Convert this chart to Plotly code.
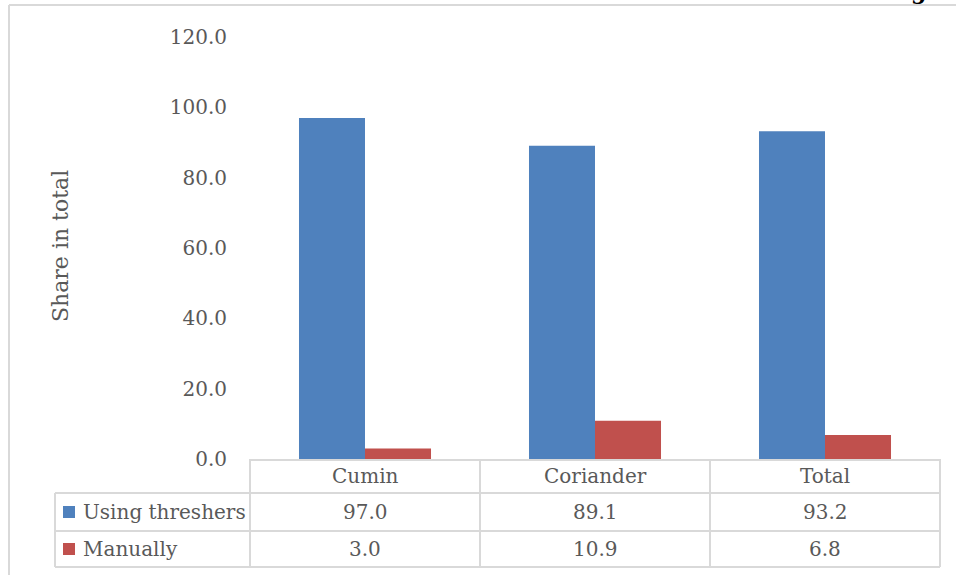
import plotly.graph_objects as go

# Share of farmers by threshing method
categories = ["Cumin", "Coriander", "Total"]
series_names = ["Using threshers", "Manually"]
using_threshers = [97.0, 89.1, 93.2]
manually = [3.0, 10.9, 6.8]
series_values = [using_threshers, manually]
series_colors = ["#4F81BD", "#C0504D"]
y_ticks = [0, 20, 40, 60, 80, 100, 120]

W, H = 956, 575
M_L, M_R, M_T, M_B = 250, 16, 37, 116
PLOT_H = H - M_T - M_B
PLOT_W = W - M_L - M_R

TEXT = "#595959"
GRID = "#D9D9D9"
FONT = "DejaVu Serif"


def py(pixel_y):
    """Page pixel row -> paper y coordinate."""
    return (H - M_B - pixel_y) / PLOT_H


def px(pixel_x):
    """Page pixel column -> paper x coordinate."""
    return (pixel_x - M_L) / PLOT_W


fig = go.Figure()
for name, vals, col in zip(series_names, series_values, series_colors):
    fig.add_trace(go.Bar(name=name, x=categories, y=vals, marker=dict(color=col, line=dict(width=0))))

# data table rows below the plot
row_top, row1, row2, row_bot = 459, 493, 531, 567
line = dict(color=GRID, width=2)
shapes = []
for yy in (row1, row2, row_bot):
    shapes.append(dict(type="line", xref="paper", yref="paper", x0=px(55), x1=1, y0=py(yy), y1=py(yy), line=line))
shapes.append(dict(type="line", xref="paper", yref="paper", x0=px(55), x1=px(55), y0=py(row1), y1=py(row_bot), line=line))
shapes.append(dict(type="line", xref="paper", yref="paper", x0=0, x1=0, y0=py(row_top), y1=py(row_bot), line=line))
shapes.append(dict(type="line", xref="paper", yref="paper", x0=1, x1=1, y0=py(row_top), y1=py(row_bot), line=line))
for i in range(len(categories) - 1):
    shapes.append(dict(type="line", xref="x", yref="paper", x0=i + 0.5, x1=i + 0.5, y0=py(row_top), y1=py(row_bot), line=line))

# outer chart frame (left and top edges)
shapes.append(dict(type="line", xref="paper", yref="paper", x0=px(9), x1=px(W + 5), y0=py(5), y1=py(5), line=line))
shapes.append(dict(type="line", xref="paper", yref="paper", x0=px(9), x1=px(9), y0=py(5), y1=py(H + 5), line=line))

annotations = []
font = dict(family=FONT, size=20, color=TEXT)
# header row with categories
for c in categories:
    annotations.append(dict(x=c, xref="x", y=py((row_top + row1) / 2), yref="paper", text=c, showarrow=False,
                            font=font, xanchor="center", yanchor="middle"))
# value rows with legend keys
for r, (name, vals, col) in enumerate(zip(series_names, series_values, series_colors)):
    top, bot = (row1, row2) if r == 0 else (row2, row_bot)
    yc = py((top + bot) / 2)
    shapes.append(dict(type="rect", xref="paper", yref="paper", xsizemode="pixel", ysizemode="pixel",
                       xanchor=px(63), yanchor=yc, x0=0, x1=12, y0=-6, y1=6,
                       fillcolor=col, line=dict(width=0)))
    annotations.append(dict(x=px(81), xref="paper", y=yc, yref="paper", text=name, showarrow=False,
                            font=font, xanchor="left", yanchor="middle"))
    for c, v in zip(categories, vals):
        annotations.append(dict(x=c, xref="x", y=yc, yref="paper", text=f"{v:.1f}", showarrow=False,
                                font=font, xanchor="center", yanchor="middle"))

# y axis title
annotations.append(dict(x=px(61), xref="paper", y=py(246), yref="paper", text="Share in total", textangle=-90,
                        showarrow=False, font=dict(family=FONT, size=22, color=TEXT),
                        xanchor="center", yanchor="middle"))
# bold heading running above the frame
annotations.append(dict(x=px(918), xref="paper", y=1, yref="paper", yshift=31, text="<b>g</b>", showarrow=False,
                        font=dict(family=FONT, size=22, color="#000000"), xanchor="center", yanchor="bottom"))

fig.update_layout(
    width=W, height=H,
    margin=dict(l=M_L, r=M_R, t=M_T, b=M_B, pad=0),
    paper_bgcolor="white", plot_bgcolor="white",
    barmode="group", bargap=0.426, bargroupgap=0,
    showlegend=False,
    shapes=shapes, annotations=annotations,
    font=dict(family=FONT, color=TEXT, size=20),
)
fig.update_xaxes(showticklabels=False, showgrid=False, zeroline=False, showline=True, linecolor=GRID, linewidth=2,
                 ticks="")
fig.update_yaxes(range=[0, 120], tickvals=y_ticks, ticktext=[f"{t:.1f}" for t in y_ticks],
                 showgrid=False, zeroline=False, showline=False, ticks="", ticklabelstandoff=22,
                 tickfont=dict(family=FONT, size=20, color=TEXT))

fig.write_html("out.html")
